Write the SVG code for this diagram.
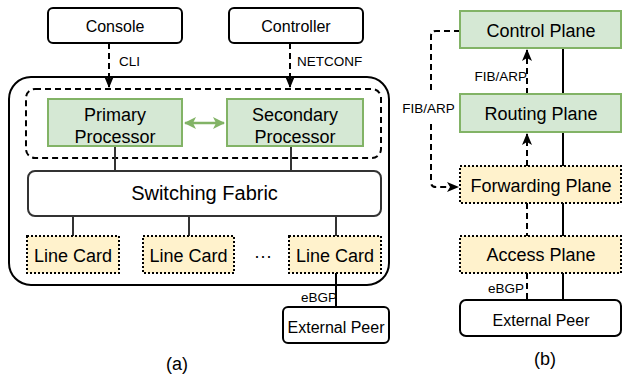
<svg xmlns="http://www.w3.org/2000/svg" width="623" height="379" viewBox="0 0 623 379">
<style>
text{font-family:"Liberation Sans",Arial,sans-serif;fill:#000;text-anchor:middle}
.box{fill:#fff;stroke:#000;stroke-width:2}
.green{fill:#d5e8d4;stroke:#82b366;stroke-width:2}
.yellow{fill:#fff2cc;stroke:#000;stroke-width:2;stroke-dasharray:2 2}
.gray{stroke:#333;stroke-width:2;fill:none}
.solid{stroke:#000;stroke-width:2;fill:none}
.dash{stroke:#000;stroke-width:2;fill:none;stroke-dasharray:6 4}
.t16{font-size:16px}.t18{font-size:18px}.t20{font-size:20px}.t13{font-size:13.5px}
</style>
<defs>
<marker id="ah" viewBox="0 0 12 10" refX="11" refY="5" markerWidth="12" markerHeight="10" markerUnits="userSpaceOnUse" orient="auto">
<path d="M0,0 L12,5 L0,10 L3,5 Z" fill="#000"/>
</marker>
<marker id="gh" viewBox="0 0 12 12" refX="11" refY="6" markerWidth="12" markerHeight="12" markerUnits="userSpaceOnUse" orient="auto-start-reverse">
<path d="M0,0 L12,6 L0,12 L3,6 Z" fill="#82b366"/>
</marker>
</defs>

<!-- (a) -->
<g id="router">
<rect x="9" y="77" width="380" height="208" rx="22" class="box"/>
</g>
<g id="proc-group">
<rect x="26" y="89" width="355" height="69" rx="9" fill="none" stroke="#000" stroke-width="2" stroke-dasharray="6 4"/>
</g>

<g id="connectors-a">
<path d="M109,43 V87" class="dash" marker-end="url(#ah)"/>
<path d="M290,43 V87" class="dash" marker-end="url(#ah)"/>
<path d="M185,123 H224" stroke="#82b366" stroke-width="2.5" fill="none" marker-start="url(#gh)" marker-end="url(#gh)"/>
<path d="M115,146 V171 M291,146 V171 M73,216 V236 M189,216 V236 M336,216 V236" class="gray"/>
<path d="M336,273 V307" class="solid"/>
<text x="119" y="66" class="t13" style="text-anchor:start">CLI</text>
<text x="297" y="66" class="t13" style="text-anchor:start">NETCONF</text>
<text x="337" y="302" class="t13" style="text-anchor:end">eBGP</text>
</g>

<g id="console"><rect x="48" y="8" width="134" height="35" rx="5" class="box"/><text x="115" y="31.5" class="t16">Console</text></g>
<g id="controller"><rect x="229" y="8" width="134" height="35" rx="5" class="box"/><text x="296" y="31.5" class="t16">Controller</text></g>
<g id="primary"><rect x="48" y="99" width="134" height="47" class="green"/><text x="115" y="120.5" class="t18">Primary</text><text x="115" y="142.5" class="t18">Processor</text></g>
<g id="secondary"><rect x="227" y="99" width="136" height="47" class="green"/><text x="295" y="120.5" class="t18">Secondary</text><text x="295" y="142.5" class="t18">Processor</text></g>
<g id="fabric"><rect x="28" y="171" width="353" height="45" rx="7" fill="#fff" stroke="#333" stroke-width="2"/><text x="204.5" y="200" class="t20">Switching Fabric</text></g>
<g id="lc1"><rect x="27" y="236" width="92" height="37" class="yellow"/><text x="73" y="261.5" class="t18">Line Card</text></g>
<g id="lc2"><rect x="143" y="236" width="91" height="37" class="yellow"/><text x="188.5" y="261.5" class="t18">Line Card</text></g>
<g id="dots"><text x="263" y="261.5" class="t18">···</text></g>
<g id="lc3"><rect x="289" y="236" width="92" height="37" class="yellow"/><text x="335" y="261.5" class="t18">Line Card</text></g>
<g id="peer-a"><rect x="283" y="307" width="106" height="36" rx="5" class="box"/><text x="336" y="332.5" class="t16">External Peer</text></g>
<text x="177" y="369.5" class="t18">(a)</text>

<!-- (b) -->
<g id="connectors-b">
<path d="M563,48 V300" class="solid"/>
<path d="M460,31 H436 Q431,31 431,36 V182 Q431,187 436,187 H458" class="dash" marker-end="url(#ah)"/>
<rect x="402" y="90" width="55" height="32" fill="#fff"/>
<text x="428.5" y="113" class="t13">FIB/ARP</text>
<path d="M527,94 V50" class="dash" marker-end="url(#ah)"/>
<path d="M527,166 V134" class="dash" marker-end="url(#ah)"/>
<path d="M527,203 V236 M527,273 V300" class="dash"/>
<text x="527" y="81" class="t13" style="text-anchor:end">FIB/ARP</text>
<text x="524" y="293" class="t13" style="text-anchor:end">eBGP</text>
</g>
<g id="control-plane"><rect x="460" y="11" width="161" height="37" class="green"/><text x="541" y="36.5" class="t18">Control Plane</text></g>
<g id="routing-plane"><rect x="460" y="94" width="161" height="38" class="green"/><text x="541" y="119.5" class="t18">Routing Plane</text></g>
<g id="forwarding-plane"><rect x="460" y="166" width="161" height="37" class="yellow"/><text x="541" y="191.5" class="t18">Forwarding Plane</text></g>
<g id="access-plane"><rect x="460" y="236" width="161" height="37" class="yellow"/><text x="541" y="261" class="t18">Access Plane</text></g>
<g id="peer-b"><rect x="460" y="300" width="161" height="36" rx="6" class="box"/><text x="541" y="325.5" class="t16">External Peer</text></g>
<text x="545" y="364.5" class="t18">(b)</text>
</svg>
